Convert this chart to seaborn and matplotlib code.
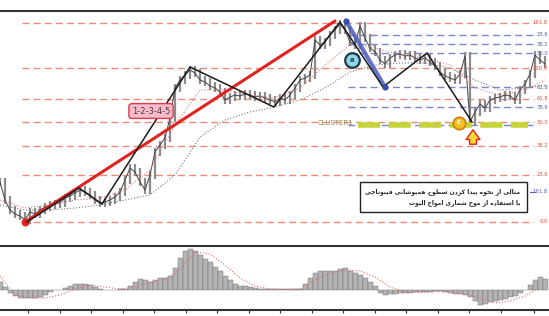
import matplotlib
matplotlib.use("Agg")

import matplotlib.pyplot as plt
import numpy as np
import pandas as pd
import seaborn as sns
from matplotlib.patches import Rectangle

# ---------------------------------------------------------------------------
# DATA (x = bar position, price in chart units)
# ---------------------------------------------------------------------------
bar_x = list(range(0, 550, 5))
close = [68, 50, 40, 36, 34, 30, 38, 36, 40, 43, 45, 46, 47, 52, 54, 57, 60, 58, 55, 50,
         47, 48, 50, 53, 58, 70, 82, 78, 68, 60, 75, 98, 105, 112, 132, 162, 170, 175, 180, 177,
         170, 168, 164, 162, 158, 150, 153, 155, 154, 156, 155, 153, 154, 152, 150, 148, 152, 150, 155, 162,
         170, 172, 175, 210, 205, 208, 215, 220, 226, 220, 208, 205, 224, 212, 202, 198, 190, 186, 192, 195,
         196, 194, 195, 192, 190, 192, 188, 184, 178, 174, 172, 170, 176, 194, 128, 138, 146, 142, 150, 152,
         153, 155, 154, 150, 160, 166, 176, 195, 190, 186]

ma_x = [0, 25, 50, 75, 100, 125, 150, 175, 200, 225, 250, 275, 300, 325, 350, 375, 400, 425, 450, 475, 500, 525, 545]
ma_fast = [50, 42, 45, 50, 52, 60, 80, 125, 160, 160, 155, 152, 162, 185, 205, 202, 195, 192, 185, 162, 155, 160, 170]
ma_slow = [45, 40, 40, 42, 45, 50, 55, 75, 113, 130, 138, 143, 150, 162, 178, 185, 187, 187, 182, 170, 160, 162, 165]

wave_x = [27, 79, 102, 190, 274, 340, 383, 427, 472]
wave_y = [28, 62, 46, 183, 143, 228, 163, 197, 128]

trend_x = [25, 335]
trend_y = [28, 229]
blue_x = [346, 385]
blue_y = [229, 163]

red_levels = [227.3, 181.7, 151.3, 127.7, 104.3, 75.5, 28.3]
red_labels = ["161.8", "100.0", "61.8", "50.0", "38.2", "23.6", "0.0"]
blue_levels = [215, 206, 196.7, 162.7, 142.7, 125]
blue_labels = ["23.6", "38.2", "50.0", "61.8", "78.6", ""]
blue_tag_level = 58.3
blue_tag_label = "161.8"

cluster_level = 125.5

macd_hist = [8, 3, -3, -6, -7.5, -7.7, -7.7, -7.5, -6.5, -4.5, -2, 0, 0.5, 2.5, 4.5, 6, 6.3, 6, 5, 3,
             1.5, 0.5, 0.5, 0.5, 1, 1.5, 4, 8, 11, 10, 8, 10, 12, 12.5, 14, 22, 32, 39, 41, 39,
             35, 31, 28, 23, 19, 14, 10, 6, 4.5, 4, 3.5, 2.5, 1.5, 1, 1, 1, 1, 1, 1, 1,
             1, 6, 12, 17, 19, 19, 19, 19.5, 21, 22, 19, 17, 15, 12, 8, 4, -3, -5, -4, -3.5,
             -3, -3, -2.5, -2, -2, -2, -1.5, -1, -1, -2, -3, -3.5, -4, -5, -7, -11, -15, -14, -12, -10.5,
             -9.5, -8.5, -7, -5.5, -3, 0, 5, 10, 13, 11]
signal_x = [0, 15, 30, 45, 60, 75, 90, 105, 120, 135, 150, 165, 180, 195, 210, 225, 240, 255, 270,
            285, 300, 315, 330, 345, 360, 375, 390, 405, 420, 435, 450, 465, 480, 495, 510, 525, 540]
signal = [14, -5, -8, -8, -5, 1, 5, 3, 1, 3, 8, 11, 20, 38, 36, 25, 12, 4, 1,
          0.5, 1, 10, 17, 20, 19, 13, 3, -2, -2.5, -1.5, -2, -4, -8, -13, -11, -6, 3]
time_ticks = [28, 59.5, 91, 122.5, 154, 185.5, 217, 248.5, 280, 311.5, 343, 374.5, 406, 437.5, 469, 500.5, 534]

note_lines = ["مثالی از نحوه پیدا کردن سطوح همپوشانی فیبوناچی",
              "با استفاده از موج شماری امواج الیوت"]

# ---------------------------------------------------------------------------
# tiny persian shaper (matplotlib has no RTL shaping)
# iso, fin, init, med
# ---------------------------------------------------------------------------
FORMS = {
    "ا": ("\uFE8D", "\uFE8E", None, None),
    "ب": ("\uFE8F", "\uFE90", "\uFE91", "\uFE92"),
    "پ": ("\uFB56", "\uFB57", "\uFB58", "\uFB59"),
    "ت": ("\uFE95", "\uFE96", "\uFE97", "\uFE98"),
    "ث": ("\uFE99", "\uFE9A", "\uFE9B", "\uFE9C"),
    "ج": ("\uFE9D", "\uFE9E", "\uFE9F", "\uFEA0"),
    "چ": ("\uFB7A", "\uFB7B", "\uFB7C", "\uFB7D"),
    "ح": ("\uFEA1", "\uFEA2", "\uFEA3", "\uFEA4"),
    "د": ("\uFEA9", "\uFEAA", None, None),
    "ر": ("\uFEAD", "\uFEAE", None, None),
    "ز": ("\uFEAF", "\uFEB0", None, None),
    "س": ("\uFEB1", "\uFEB2", "\uFEB3", "\uFEB4"),
    "ش": ("\uFEB5", "\uFEB6", "\uFEB7", "\uFEB8"),
    "ط": ("\uFEC1", "\uFEC2", "\uFEC3", "\uFEC4"),
    "ف": ("\uFED1", "\uFED2", "\uFED3", "\uFED4"),
    "ک": ("\uFB8E", "\uFB8F", "\uFB90", "\uFB91"),
    "ل": ("\uFEDD", "\uFEDE", "\uFEDF", "\uFEE0"),
    "م": ("\uFEE1", "\uFEE2", "\uFEE3", "\uFEE4"),
    "ن": ("\uFEE5", "\uFEE6", "\uFEE7", "\uFEE8"),
    "ه": ("\uFEE9", "\uFEEA", "\uFEEB", "\uFEEC"),
    "و": ("\uFEED", "\uFEEE", None, None),
    "ی": ("\uFEEF", "\uFEF0", "\uFEF3", "\uFEF4"),
}


def shape(line):
    out = []
    for i, ch in enumerate(line):
        if ch not in FORMS:
            out.append(ch)
            continue
        prev = line[i - 1] if i > 0 else ""
        nxt = line[i + 1] if i < len(line) - 1 else ""
        join_prev = prev in FORMS and FORMS[prev][2] is not None
        join_next = nxt in FORMS and FORMS[ch][2] is not None
        iso, fin, ini, med = FORMS[ch]
        if join_prev and join_next:
            out.append(med)
        elif join_prev:
            out.append(fin)
        elif join_next:
            out.append(ini)
        else:
            out.append(iso)
    return "".join(out)[::-1]


# ---------------------------------------------------------------------------
# FIGURE
# ---------------------------------------------------------------------------
sns.set_style("white")
plt.rcParams["font.family"] = ["DejaVu Sans"]

W, H = 549, 316
fig = plt.figure(figsize=(W / 100, H / 100), dpi=100)
ax = fig.add_axes([0, (H - 246) / H, 1, (246 - 11) / H])
ax2 = fig.add_axes([0, (H - 310) / H, 1, (310 - 246) / H])

ax.set_xlim(0, 549)
ax.set_ylim(4, 239)
ax2.set_xlim(0, 549)
ax2.set_ylim(-20, 44)

# fib levels
for lvl, lab in zip(red_levels, red_labels):
    ax.plot([22, 534], [lvl, lvl], color="#f08a78", lw=1.0, dashes=(5, 3))
    ax.text(548, lvl, lab, color="#e05040", fontsize=3.8, va="center", ha="right")
for lvl, lab in zip(blue_levels, blue_labels):
    ax.plot([348, 534], [lvl, lvl], color="#7a86cc", lw=1.0, dashes=(5, 3))
    if lab:
        ax.text(548, lvl, lab, color="#5060b0", fontsize=3.8, va="center", ha="right")
ax.plot([530, 535], [blue_tag_level, blue_tag_level], color="#5060b0", lw=0.8)
ax.text(548, blue_tag_level, blue_tag_label, color="#5060b0", fontsize=3.8, va="center", ha="right")

# cluster band
ax.plot([358, 528], [cluster_level, cluster_level], color="#c5d43a", lw=4, dashes=(4, 1.5), zorder=3)
ax.text(318, cluster_level + 1.5, "CLUSTER1", color="#9a8a55", fontsize=5, va="center", ha="left")

# price bars
df = pd.DataFrame({"x": bar_x, "close": close})
prev = df["close"].shift(1).fillna(df["close"])
ax.vlines(df["x"], np.minimum(prev, df["close"]) - 4, np.maximum(prev, df["close"]) + 4,
          color="#8c8c8c", lw=1.6, zorder=2)
sns.lineplot(data=df, x="x", y="close", ax=ax, color="#444444", lw=0.7, zorder=3)

# moving averages
ma = pd.DataFrame({"x": ma_x, "fast": ma_fast, "slow": ma_slow})
sns.lineplot(data=ma, x="x", y="fast", ax=ax, color="#e07a7a", lw=0.8, linestyle=":", zorder=3)
sns.lineplot(data=ma, x="x", y="slow", ax=ax, color="#777777", lw=0.8, linestyle=":", zorder=3)

# trend line, wave count, correction leg
ax.plot(trend_x, trend_y, color="#e0231f", lw=2.2, zorder=5)
ax.scatter([trend_x[0]], [trend_y[0]], s=22, color="#e0231f", zorder=6)
wv = pd.DataFrame({"x": wave_x, "y": wave_y})
sns.lineplot(data=wv, x="x", y="y", ax=ax, color="#1a1a1a", lw=1.1, sort=False, zorder=6)
ax.plot(blue_x, blue_y, color="#4a5cc0", lw=3, alpha=0.85, zorder=5)
ax.scatter(blue_x, blue_y, s=12, color="#3a4cb0", zorder=6)

# labels
ax.text(151, 139, "1-2-3-4-5", fontsize=6, color="#553333", ha="center", va="center", zorder=7,
        bbox=dict(boxstyle="round,pad=0.35", fc="#f6bccb", ec="#e03a4a", lw=1))
ax.scatter([352], [190], s=110, color="#8fd6e6", edgecolor="#1d3a4a", linewidth=1.6, zorder=7)
ax.text(352, 190.5, "a", fontsize=5, color="#1d4a55", ha="center", va="center", zorder=8, weight="bold")
ax.scatter([459], [127], s=80, color="#f5c022", edgecolor="#cf7d12", linewidth=1.2, zorder=7)
ax.text(459, 127.5, "c", fontsize=5, color="white", ha="center", va="center", zorder=8, weight="bold")
ax.annotate("", xy=(473, 123), xytext=(473, 103),
            arrowprops=dict(arrowstyle="simple,head_width=1.0,head_length=0.7,tail_width=0.5",
                            fc="#f6d63a", ec="#e0261d", lw=1), zorder=8)

# note box
ax.add_patch(Rectangle((360, 38), 167, 30, fc="white", ec="#222222", lw=1, zorder=7))
ax.text(520, 58, shape(note_lines[0]), fontsize=4.3, ha="right", va="center", weight="bold", zorder=8)
ax.text(520, 47, shape(note_lines[1]), fontsize=4.3, ha="right", va="center", weight="bold", zorder=8)

for s in ["left", "right", "bottom"]:
    ax.spines[s].set_visible(False)
ax.spines["top"].set_color("#333333")
ax.spines["top"].set_linewidth(1.5)
ax.set_xticks([])
ax.set_yticks([])
ax.set_xlabel("")
ax.set_ylabel("")

# MACD panel
ax2.bar(bar_x, macd_hist, width=5, color="#b4b4b4", edgecolor="#6a6a6a", linewidth=0.3)
sg = pd.DataFrame({"x": signal_x, "s": signal})
sns.lineplot(data=sg, x="x", y="s", ax=ax2, color="#e06a6a", lw=0.8, linestyle=":")
for s in ["left", "right"]:
    ax2.spines[s].set_visible(False)
for s in ["top", "bottom"]:
    ax2.spines[s].set_color("#333333")
    ax2.spines[s].set_linewidth(1.5)
ax2.set_xticks(time_ticks)
ax2.set_xticklabels([])
ax2.tick_params(axis="x", length=2, width=0.8, color="#333333", direction="out", bottom=True)
ax2.set_yticks([])
ax2.set_xlabel("")
ax2.set_ylabel("")

fig.savefig("out.png", dpi=100)
